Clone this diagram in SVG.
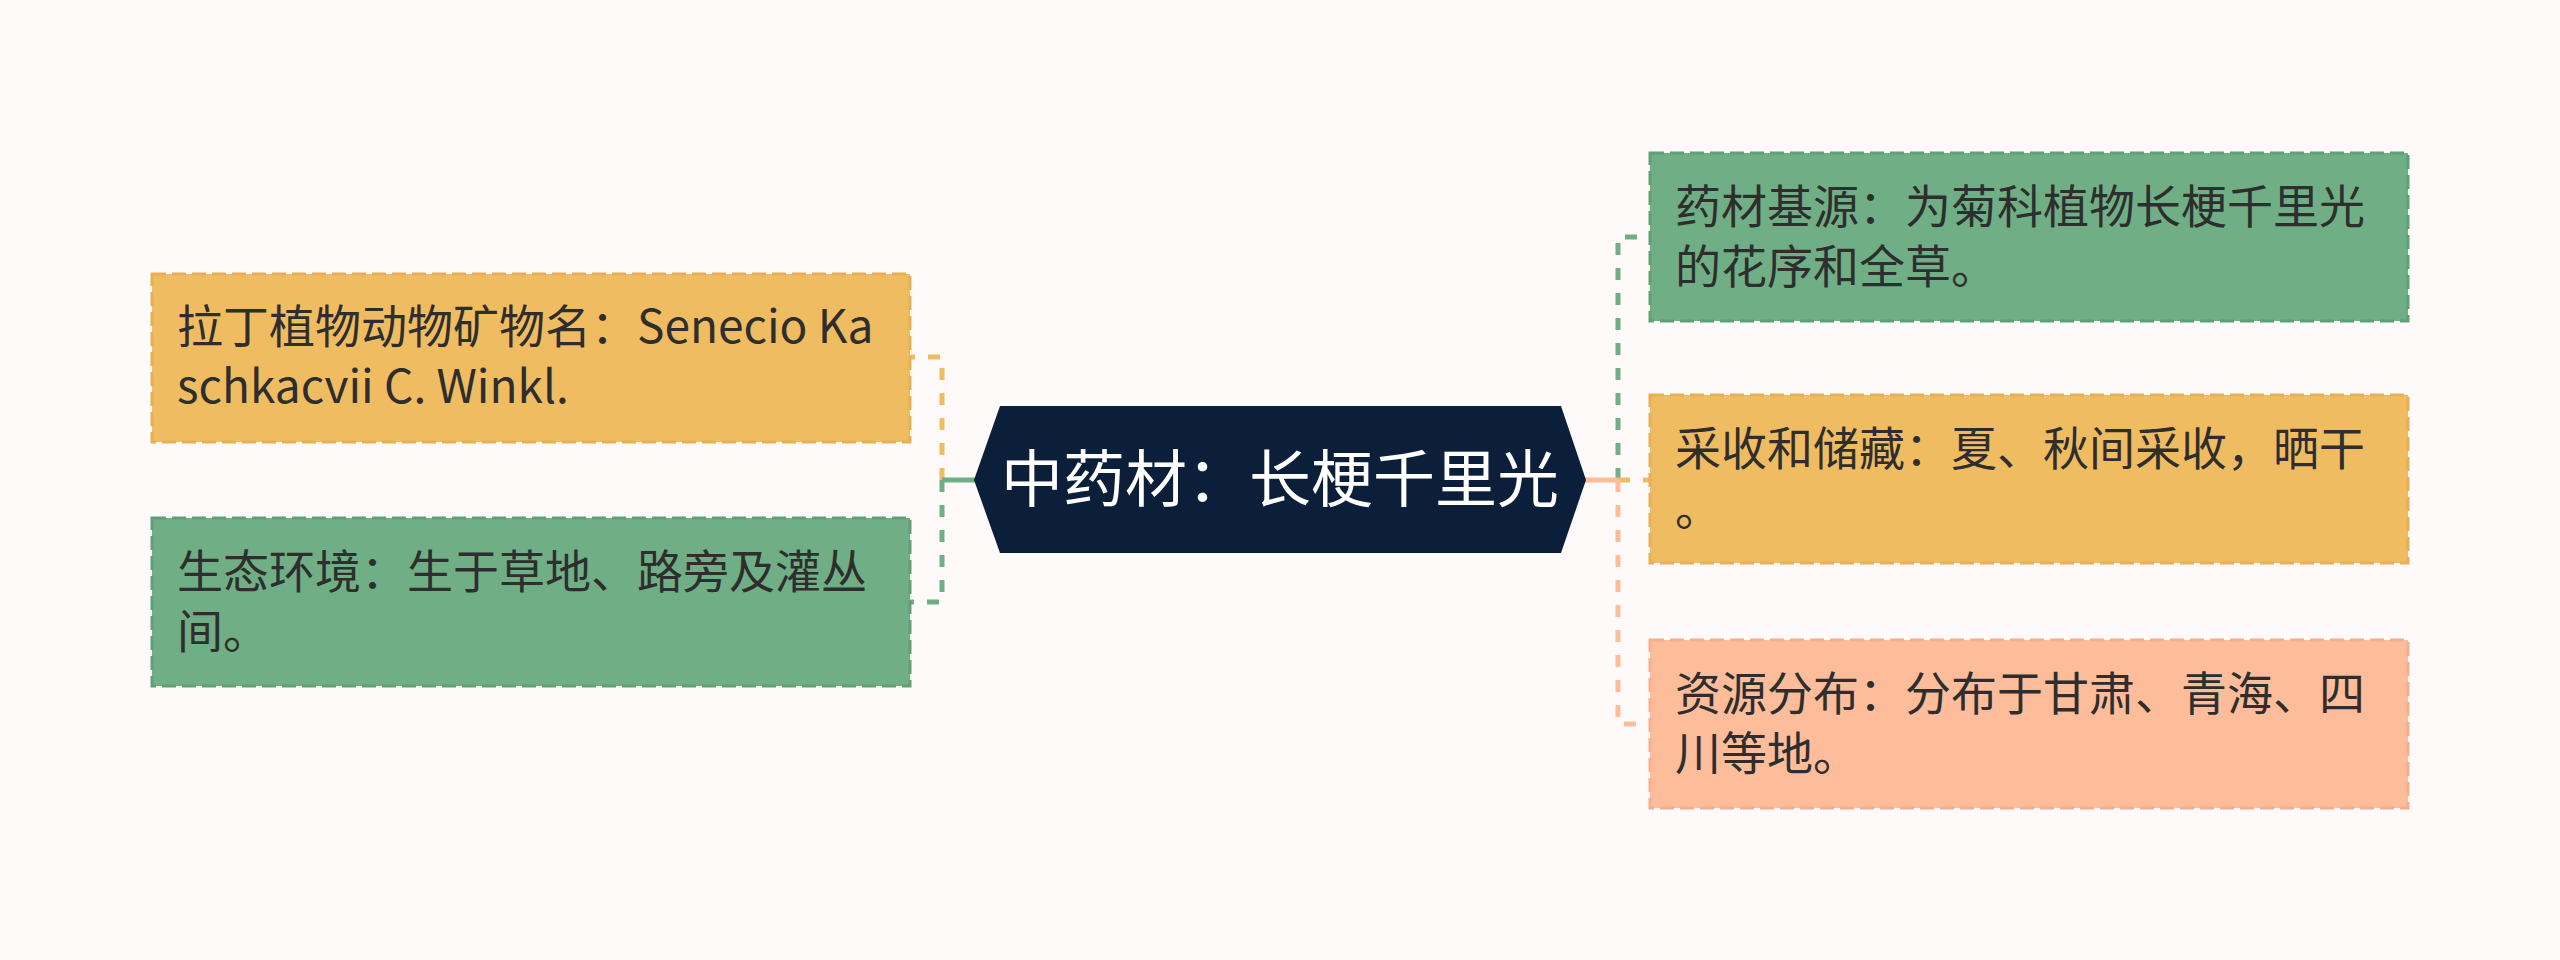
<svg xmlns="http://www.w3.org/2000/svg" width="2560" height="960" viewBox="0 0 2560 960">
<style>
.bg{fill:#fdfaf9}
.box{stroke-width:3;stroke-dasharray:14 6}
.y{fill:#f0bc62;stroke:#e6b055}
.g{fill:#70af85;stroke:#619f76}
.p{fill:#fdbc9a;stroke:#f4b08e}
.t{font-family:"Noto Sans CJK SC","Noto Sans",sans-serif;font-size:46px;fill:#2e2e2e}
.ct{font-family:"Noto Sans CJK SC","Noto Sans",sans-serif;font-size:62px;fill:#ffffff}
.c{fill:none;stroke-width:5}
.d{stroke-dasharray:12 13}
</style>
<rect class="bg" x="0" y="0" width="2560" height="960"/>
<g id="connectors">
  <path class="c d" stroke="#f0bc62" d="M942 480 V357 H910"/>
  <path class="c d" stroke="#70af85" d="M942 480 V602 H910"/>
  <path class="c" stroke="#70af85" d="M942 480 H975"/>
  <path class="c d" stroke="#70af85" d="M1618 480 V237 H1650"/>
  <path class="c d" stroke="#f0bc62" d="M1618 480 H1650"/>
  <path class="c d" stroke="#fdbc9a" d="M1618 480 V724 H1650"/>
  <path class="c" stroke="#fdbc9a" d="M1585 480 H1618"/>
</g>
<g id="center">
  <polygon fill="#0c1f3a" points="974,480 1000,406 1561,406 1586,480 1561,553 1000,553"/>
  <text class="ct" x="1280" y="502" text-anchor="middle">中药材：长梗千里光</text>
</g>
<g id="latin-name">
  <rect class="box y" x="152" y="274" width="758" height="168"/>
  <text class="t" x="177" y="343">拉丁植物动物矿物名：Senecio Ka</text>
  <text class="t" x="177" y="403">schkacvii C. Winkl.</text>
</g>
<g id="habitat">
  <rect class="box g" x="152" y="518" width="758" height="168"/>
  <text class="t" x="177" y="588">生态环境：生于草地、路旁及灌丛</text>
  <text class="t" x="177" y="648">间。</text>
</g>
<g id="source">
  <rect class="box g" x="1650" y="153" width="758" height="168"/>
  <text class="t" x="1675" y="223">药材基源：为菊科植物长梗千里光</text>
  <text class="t" x="1675" y="283">的花序和全草。</text>
</g>
<g id="harvest">
  <rect class="box y" x="1650" y="395" width="758" height="168"/>
  <text class="t" x="1675" y="465">采收和储藏：夏、秋间采收，晒干</text>
  <text class="t" x="1675" y="525">。</text>
</g>
<g id="distribution">
  <rect class="box p" x="1650" y="640" width="758" height="168"/>
  <text class="t" x="1675" y="710">资源分布：分布于甘肃、青海、四</text>
  <text class="t" x="1675" y="770">川等地。</text>
</g>
</svg>
